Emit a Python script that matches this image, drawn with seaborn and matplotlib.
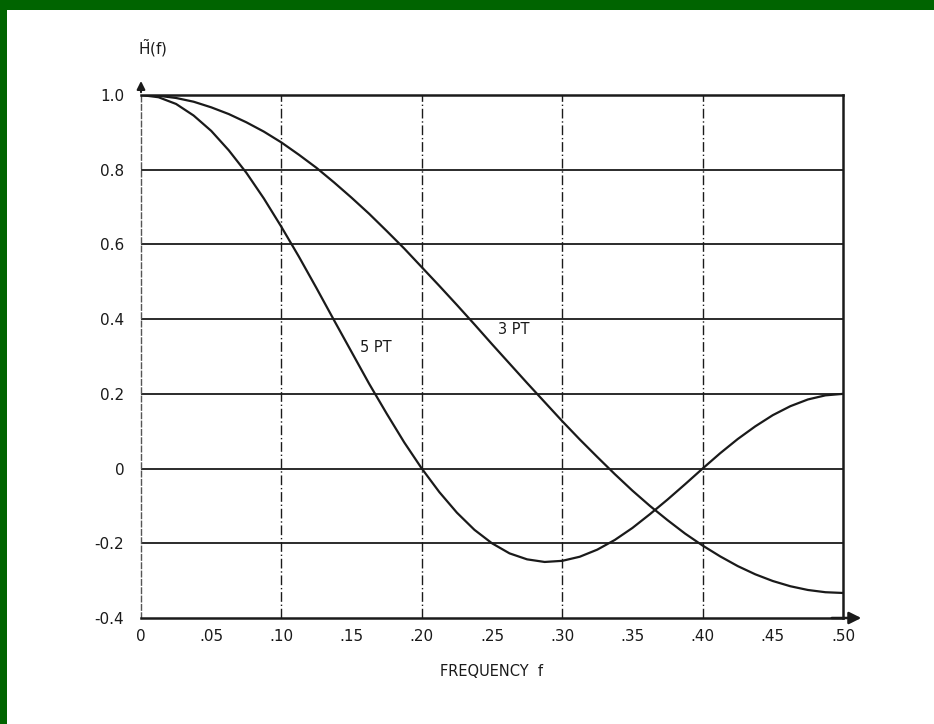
import pandas as pd
import seaborn as sns
import matplotlib.pyplot as plt
from matplotlib.patches import Rectangle

# DATA (every 0.0125 in f)
FREQ = [0.0, 0.0125, 0.025, 0.0375, 0.05, 0.0625, 0.075, 0.0875, 0.10, 0.1125,
        0.125, 0.1375, 0.15, 0.1625, 0.175, 0.1875, 0.20, 0.2125, 0.225, 0.2375,
        0.25, 0.2625, 0.275, 0.2875, 0.30, 0.3125, 0.325, 0.3375, 0.35, 0.3625,
        0.375, 0.3875, 0.40, 0.4125, 0.425, 0.4375, 0.45, 0.4625, 0.475, 0.4875, 0.50]
H_3PT = [1.000, 0.998, 0.992, 0.982, 0.967, 0.949, 0.927, 0.902, 0.873, 0.840,
         0.805, 0.766, 0.725, 0.682, 0.636, 0.589, 0.539, 0.489, 0.438, 0.386,
         0.333, 0.281, 0.229, 0.178, 0.127, 0.078, 0.031, -0.015, -0.059, -0.100,
         -0.138, -0.174, -0.206, -0.235, -0.261, -0.283, -0.301, -0.315, -0.325, -0.331, -0.333]
H_5PT = [1.000, 0.994, 0.976, 0.945, 0.904, 0.852, 0.792, 0.723, 0.647, 0.567,
         0.483, 0.397, 0.312, 0.227, 0.147, 0.070, 0.000, -0.063, -0.118, -0.164,
         -0.200, -0.227, -0.243, -0.250, -0.247, -0.236, -0.217, -0.191, -0.159, -0.122,
         -0.083, -0.042, 0.000, 0.041, 0.079, 0.113, 0.143, 0.167, 0.185, 0.196, 0.200]
X_TICKS = [0, 0.05, 0.10, 0.15, 0.20, 0.25, 0.30, 0.35, 0.40, 0.45, 0.50]
X_LABELS = ["0", ".05", ".10", ".15", ".20", ".25", ".30", ".35", ".40", ".45", ".50"]
Y_TICKS = [1.0, 0.8, 0.6, 0.4, 0.2, 0.0, -0.2, -0.4]
Y_LABELS = ["1.0", "0.8", "0.6", "0.4", "0.2", "0", "-0.2", "-0.4"]
Y_MINOR = [0.9, 0.7, 0.5, 0.3, 0.1, -0.1, -0.3]

INK = "#1a1a1a"


def build_frame():
    df = pd.concat([
        pd.DataFrame({"f": FREQ, "H": H_3PT, "filter": "3 PT"}),
        pd.DataFrame({"f": FREQ, "H": H_5PT, "filter": "5 PT"}),
    ])
    return df


def main():
    sns.set_style("white")
    plt.rcParams["font.family"] = ["DejaVu Sans"]

    fig = plt.figure(figsize=(9.34, 7.24), dpi=100)
    fig.patch.set_facecolor("#006400")
    # white sheet inside the green frame
    sheet = Rectangle((7 / 934, 0), 1, 714 / 724, transform=fig.transFigure,
                      facecolor="white", edgecolor="none", zorder=-10)
    fig.add_artist(sheet)

    ax = fig.add_axes([141 / 934, 106 / 724, 702 / 934, 523 / 724])
    ax.set_zorder(1)
    ax.set_facecolor("white")

    df = build_frame()
    sns.lineplot(data=df, x="f", y="H", units="filter", estimator=None,
                 color=INK, linewidth=1.6, ax=ax, legend=False, zorder=3)

    ax.set_xlim(0, 0.5)
    ax.set_ylim(-0.4, 1.0)

    # grid: solid horizontals, broken verticals
    for y in Y_TICKS[1:-1]:
        ax.axhline(y, color=INK, linewidth=1.3, zorder=1)
    for x in X_TICKS[2:-1:2]:
        ax.axvline(x, color=INK, linewidth=1.0, linestyle=(0, (7, 2, 1, 2)), zorder=1)

    ax.set_xticks(X_TICKS)
    ax.set_xticklabels(X_LABELS)
    ax.set_yticks(Y_TICKS)
    ax.set_yticklabels(Y_LABELS)
    ax.set_yticks(Y_MINOR, minor=True)
    ax.tick_params(axis="both", which="major", length=0, labelsize=11, labelcolor=INK)
    ax.tick_params(axis="y", which="major", pad=12)
    ax.tick_params(axis="x", which="major", pad=8)
    ax.tick_params(axis="y", which="minor", direction="in", length=8, width=1.3, color=INK)
    # small inward ticks at the odd x positions
    ax.set_xticks(X_TICKS[1::2], minor=True)
    ax.tick_params(axis="x", which="minor", direction="in", length=5, width=1, color=INK)

    for side in ["top", "right", "bottom"]:
        ax.spines[side].set_color(INK)
        ax.spines[side].set_linewidth(1.8)
    ax.spines["left"].set_color("#555555")
    ax.spines["left"].set_linewidth(1.0)
    ax.spines["left"].set_linestyle((0, (4, 2)))

    # axis arrows
    ax.annotate("", xy=(0.515, -0.4), xytext=(0.49, -0.4), xycoords="data",
                arrowprops=dict(arrowstyle="-|>", color=INK, lw=1.8, mutation_scale=18),
                annotation_clip=False)
    ax.annotate("", xy=(0, 1.045), xytext=(0, 1.0), xycoords="data",
                arrowprops=dict(arrowstyle="-|>", color=INK, lw=1.5, mutation_scale=12),
                annotation_clip=False)

    ax.set_xlabel("FREQUENCY  f", fontsize=10.5, color=INK, labelpad=14)
    ax.set_ylabel("")
    ax.text(-0.002, 1.125, r"$\tilde{\mathrm{H}}\mathrm{(f)}$", fontsize=11, color=INK,
            ha="left", va="center", transform=ax.transData)

    ax.text(0.156, 0.325, "5 PT", fontsize=10.5, color=INK, ha="left", va="center")
    ax.text(0.254, 0.372, "3 PT", fontsize=10.5, color=INK, ha="left", va="center")

    fig.savefig("out.png", dpi=100, facecolor=fig.get_facecolor())
    plt.close(fig)


if __name__ == "__main__":
    main()
